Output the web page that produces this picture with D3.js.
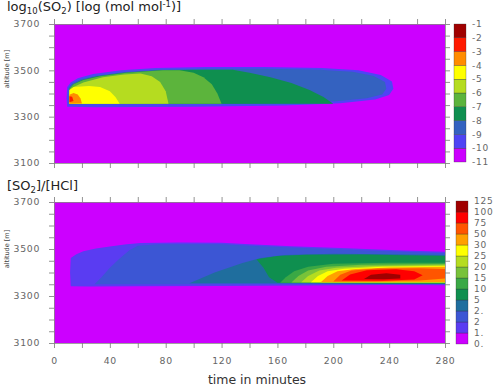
<!DOCTYPE html>
<html>
<head>
<meta charset="utf-8">
<script src="https://cdn.jsdelivr.net/npm/d3@7"></script>
<style>
body { margin: 0; background: #fff; }
text { font-family: "DejaVu Sans", Verdana, sans-serif; }
</style>
</head>
<body>
<script>
// ---- axis ticks ----
const timeTicks = [0, 20, 40, 60, 80, 100, 120, 140, 160, 180, 200, 220, 240, 260, 280];
const timeLabels = [0, 40, 80, 120, 160, 200, 240, 280];
const altTicks = [3100, 3150, 3200, 3250, 3300, 3350, 3400, 3450, 3500, 3550, 3600, 3650, 3700];
const altLabels = [3100, 3300, 3500, 3700];

// ---- colour bars ----
const so2Levels = [-11, -10, -9, -8, -7, -6, -5, -4, -3, -2, -1];
const so2Colors = ["#cc00ff", "#4f44f4", "#3462c0", "#0f8f4f", "#5cb43c", "#b5dc20", "#ffff00", "#ff8c00", "#ff1a00", "#a00000"];
const ratioBounds = [0.5, 1.5, 2, 2.5, 5, 10, 15, 20, 25, 30, 50, 75, 100, 125];
const ratioText = ["0.", "1.", "2", "2.", "5", "10", "15", "20", "25", "30", "50", "75", "100", "125"];
const ratioColors = ["#cc00ff", "#5a3cf2", "#3c56d4", "#1f6e9e", "#0f8f4f", "#3aa845", "#78c23a", "#b5dc20", "#ffff00", "#ffa000", "#ff5500", "#ff0000", "#a00000"];

// ---- log10(SO2): regions where value >= level, [time min, altitude m] ----
const so2_m10 = [[9.5,3343],[9,3380],[9.5,3428],[12,3447],[17,3466],[28,3484],[48,3500],[73,3510],[110,3514],[150,3514],[192,3510],[218,3500],[234,3480],[242,3452],[243,3420],[240,3393],[230,3374],[205,3358],[165,3348],[100,3343],[30,3341]];
const so2_m9 = [[10.5,3352],[10.5,3425],[13,3443],[19,3461],[30,3477],[50,3493],[75,3503],[110,3507],[150,3507],[190,3503],[214,3494],[229,3476],[237,3450],[238,3420],[235,3396],[224,3380],[200,3366],[160,3358],[100,3355],[30,3354]];
const so2_m8 = [[11,3355],[11,3422],[14,3440],[20,3458],[31,3474],[50,3490],[75,3500],[110,3503],[128,3502],[140,3490],[155,3470],[170,3445],[183,3415],[193,3385],[200,3356]];
const so2_m7 = [[11,3355],[11,3420],[14,3440],[21,3458],[33,3475],[52,3490],[78,3500],[90,3500],[100,3490],[107,3470],[113,3440],[117,3400],[120,3356]];
const so2_m6 = [[11,3355],[11,3412],[14,3428],[21,3448],[35,3470],[50,3482],[62,3486],[70,3474],[76,3450],[80,3410],[82,3356]];
const so2_m5 = [[11,3356],[11,3415],[14,3428],[25,3432],[33,3428],[40,3410],[44,3385],[47,3356]];
const so2_m4 = [[11,3356],[11,3395],[14,3402],[17,3396],[19,3378],[20,3357]];
const so2_m3 = [[11,3362],[11,3388],[13,3386],[14,3368]];

// ---- [SO2]/[HCl]: regions where value >= level ----
const ratio_1 = [[12,3342],[11.5,3400],[12,3462],[16,3478],[21,3490],[30,3502],[40,3511],[52,3520],[62,3526],[90,3528],[120,3527],[140,3520],[170,3512],[210,3503],[250,3494],[282,3488],[282,3346],[240,3347],[180,3345],[120,3343],[60,3341],[25,3340]];
const ratio_2 = [[29,3350],[34,3380],[40,3420],[47,3460],[54,3495],[60,3514],[75,3520],[120,3520],[140,3514],[170,3506],[210,3497],[250,3488],[282,3482],[282,3352],[200,3351],[120,3350],[60,3350]];
const ratio_2b = [[97,3354],[105,3375],[115,3400],[125,3420],[135,3440],[148,3462],[165,3474],[200,3480],[240,3478],[282,3474],[282,3354],[200,3354]];
const ratio_5 = [[145,3456],[160,3470],[180,3476],[220,3477],[282,3470],[282,3352],[240,3352],[200,3354],[160,3356],[154,3380],[150,3420]];
const ratio_10 = [[162,3356],[166,3380],[172,3405],[182,3425],[200,3437],[240,3442],[282,3442],[282,3354],[220,3355]];
const ratio_15 = [[170,3357],[175,3385],[182,3408],[195,3425],[220,3433],[282,3436],[282,3356]];
const ratio_20 = [[177,3358],[182,3385],[190,3408],[202,3420],[230,3428],[282,3432],[282,3357]];
const ratio_25 = [[184,3358],[189,3385],[196,3405],[208,3416],[235,3424],[282,3428],[282,3358]];
const ratio_30 = [[191,3359],[196,3385],[203,3405],[216,3415],[240,3421],[282,3425],[282,3360]];
const ratio_50 = [[200,3362],[205,3390],[213,3408],[232,3417],[262,3418],[282,3414],[282,3375],[262,3366],[230,3362]];
const ratio_75 = [[206,3366],[212,3392],[224,3410],[245,3414],[258,3405],[264,3388],[258,3370],[235,3365]];
const ratio_100 = [[222,3372],[227,3390],[238,3397],[248,3390],[248,3375],[236,3371]];

const so2Regions = [[-10, so2_m10], [-9, so2_m9], [-8, so2_m8], [-7, so2_m7], [-6, so2_m6], [-5, so2_m5], [-4, so2_m4], [-3, so2_m3]];
const ratioRegions = [[1.5, ratio_1], [2, ratio_2], [2.5, ratio_2b], [5, ratio_5], [10, ratio_10], [15, ratio_15], [20, ratio_20], [25, ratio_25], [30, ratio_30], [50, ratio_50], [75, ratio_75], [100, ratio_100]];

const svg = d3.select("body").append("svg")
  .attr("width", 497)
  .attr("height", 386);

const x = d3.scaleLinear().domain([0, 280]).range([54, 445]);

const so2Color = d3.scaleThreshold().domain(so2Levels.slice(1, -1)).range(so2Colors);
const ratioColor = d3.scaleThreshold().domain(ratioBounds.slice(1, -1)).range(ratioColors);

function drawPanel(cfg) {
  const y = d3.scaleLinear().domain([3100, 3700]).range([cfg.y1, cfg.y0]);
  const g = svg.append("g");

  g.append("clipPath").attr("id", cfg.id)
    .append("rect")
    .attr("x", x(0)).attr("y", y(3700))
    .attr("width", x(280) - x(0)).attr("height", y(3100) - y(3700));

  const plot = g.append("g").attr("clip-path", `url(#${cfg.id})`);
  plot.append("rect")
    .attr("x", x(0)).attr("y", y(3700))
    .attr("width", x(280) - x(0)).attr("height", y(3100) - y(3700))
    .attr("fill", cfg.color(cfg.background));

  const line = d3.line().x(d => x(d[0])).y(d => y(d[1])).curve(d3.curveLinearClosed);
  plot.selectAll("path.region")
    .data(cfg.regions)
    .enter()
    .append("path")
    .attr("class", "region")
    .attr("d", d => line(d[1]))
    .attr("fill", d => cfg.color(d[0]));

  const styleAxis = sel => {
    sel.selectAll("path.domain").attr("stroke", "#888").attr("stroke-width", 0.8);
    sel.selectAll(".tick line").attr("stroke", "#777").attr("stroke-width", 0.8);
    sel.selectAll(".tick text").attr("fill", "#666").style("font-size", "9.3px").style("letter-spacing", "0.7px");
  };

  g.append("g").attr("transform", `translate(${x(0)},0)`)
    .call(d3.axisLeft(y).tickValues(altTicks).tickSize(5).tickSizeOuter(0).tickPadding(9)
      .tickFormat(d => altLabels.includes(d) ? d : ""))
    .call(styleAxis);
  g.append("g").attr("transform", `translate(${x(280)},0)`)
    .call(d3.axisRight(y).tickValues(altTicks).tickSize(5).tickSizeOuter(0).tickFormat(""))
    .call(styleAxis);
  g.append("g").attr("transform", `translate(0,${y(3700)})`)
    .call(d3.axisTop(x).tickValues(timeTicks).tickSize(5).tickSizeOuter(0).tickFormat(""))
    .call(styleAxis);
  g.append("g").attr("transform", `translate(0,${y(3100)})`)
    .call(d3.axisBottom(x).tickValues(timeTicks).tickSize(5).tickSizeOuter(0).tickPadding(9)
      .tickFormat(d => cfg.xLabels && timeLabels.includes(d) ? d : ""))
    .call(styleAxis);

  g.append("text")
    .attr("transform", `translate(9,${cfg.yLabelY}) rotate(-90)`)
    .attr("text-anchor", "middle")
    .style("font-size", "6.5px")
    .attr("fill", "#444")
    .text("altitude [m]");

  // colour bar
  const cb = cfg.cb;
  const n = cb.colors.length;
  const cy = d3.scaleLinear().domain([0, n]).range([cb.y1, cb.y0]);
  g.selectAll("rect.cb")
    .data(cb.colors)
    .enter()
    .append("rect")
    .attr("class", "cb")
    .attr("x", cb.x)
    .attr("y", (d, i) => cy(i + 1))
    .attr("width", 12)
    .attr("height", (d, i) => cy(i) - cy(i + 1))
    .attr("fill", d => d)
    .attr("stroke", "#333")
    .attr("stroke-width", 0.3);
  g.selectAll("text.cbl")
    .data(cb.labels)
    .enter()
    .append("text")
    .attr("class", "cbl")
    .attr("x", cb.labelX)
    .attr("y", (d, i) => cy(i))
    .attr("dy", "0.35em")
    .attr("text-anchor", cb.anchor)
    .attr("fill", "#666")
    .style("font-size", "9px")
    .style("letter-spacing", "0.8px")
    .text(d => d);
}

drawPanel({
  id: "clipTop", y0: 24, y1: 163, color: so2Color, background: -10.5,
  regions: so2Regions, yLabelY: 69, xLabels: false,
  cb: { x: 454, y0: 24, y1: 162, colors: so2Colors, labels: so2Levels.map(String), labelX: 472, anchor: "start" }
});

drawPanel({
  id: "clipBottom", y0: 202, y1: 343, color: ratioColor, background: 1,
  regions: ratioRegions, yLabelY: 249, xLabels: true,
  cb: { x: 456, y0: 201, y1: 344, colors: ratioColors, labels: ratioText, labelX: 474, anchor: "start" }
});

// titles
const t1 = svg.append("text").attr("x", 7).attr("y", 11).attr("fill", "#222").style("font-size", "13px");
t1.append("tspan").text("log");
t1.append("tspan").attr("dy", 3).style("font-size", "8.5px").text("10");
t1.append("tspan").attr("dy", -3).text("(SO");
t1.append("tspan").attr("dy", 3).style("font-size", "8.5px").text("2");
t1.append("tspan").attr("dy", -3).text(") [log (mol mol");
t1.append("tspan").attr("dy", -4).style("font-size", "8.5px").text("-1");
t1.append("tspan").attr("dy", 4).text(")]");

const t2 = svg.append("text").attr("x", 7).attr("y", 190).attr("fill", "#222").style("font-size", "13px");
t2.append("tspan").text("[SO");
t2.append("tspan").attr("dy", 3).style("font-size", "8.5px").text("2");
t2.append("tspan").attr("dy", -3).text("]/[HCl]");

svg.append("text")
  .attr("x", 257).attr("y", 384)
  .attr("text-anchor", "middle")
  .attr("fill", "#333")
  .style("font-size", "12.5px")
  .text("time in minutes");
</script>
</body>
</html>
